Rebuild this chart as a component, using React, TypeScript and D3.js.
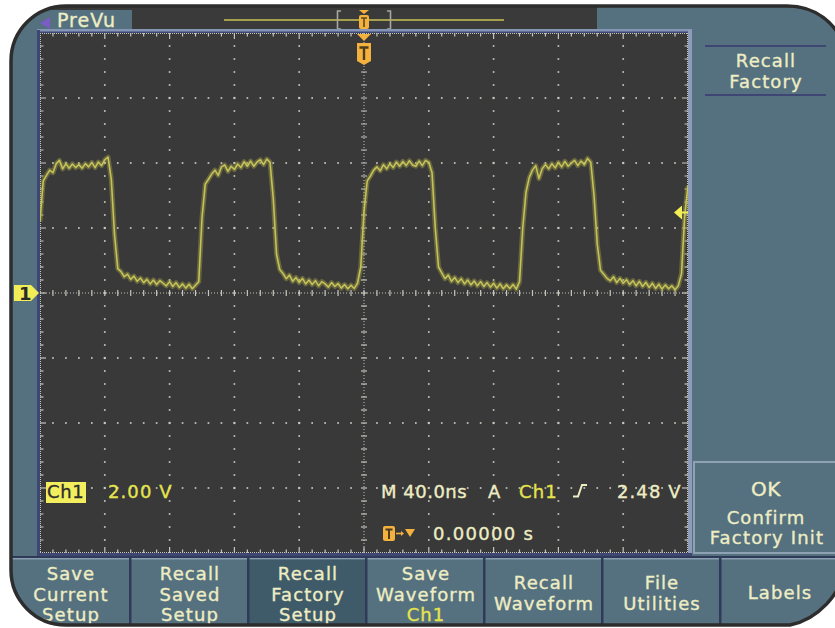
import React from "react";
import * as d3 from "d3";

// ---------- data ----------
const SAMPLE_START_NS = -200;
const SAMPLE_STEP_NS = 2;
// Ch1 samples (volts), one every 2 ns from -200 ns to +200 ns
const ch1Volts: number[] = [
  2.2, 3.45, 3.62, 3.78, 3.7, 3.98, 4.08, 3.82, 3.98, 3.84,
  3.97, 3.86, 3.95, 3.84, 3.98, 3.88, 4.02, 3.86, 4.03, 3.92,
  4.1, 4.18, 3.5, 1.8, 0.75, 0.66, 0.5, 0.58, 0.42, 0.52,
  0.36, 0.46, 0.32, 0.42, 0.28, 0.4, 0.26, 0.38, 0.3, 0.22,
  0.35, 0.2, 0.32, 0.17, 0.28, 0.15, 0.27, 0.13, 0.24, 0.35,
  2.3, 3.35, 3.5, 3.66, 3.78, 3.62, 3.88, 3.94, 3.74, 3.9,
  3.8, 3.97, 3.86, 4.04, 3.9, 4.06, 3.9, 4.03, 4.1, 3.95,
  4.12, 4.02, 2.9, 1.2, 0.72, 0.6, 0.44, 0.55, 0.36, 0.48,
  0.32, 0.45, 0.28, 0.4, 0.26, 0.38, 0.22, 0.35, 0.28, 0.18,
  0.32, 0.2, 0.29, 0.15, 0.26, 0.13, 0.24, 0.14, 0.3, 0.8,
  2.5, 3.45, 3.6, 3.78, 3.88, 3.76, 3.95, 3.82, 3.98, 3.86,
  4.03, 3.9, 4.05, 3.92, 4.07, 3.94, 3.9, 4.06, 3.92, 4.08,
  4.02, 3.7, 2.0, 0.8, 0.62, 0.44, 0.55, 0.36, 0.48, 0.32,
  0.44, 0.28, 0.4, 0.25, 0.37, 0.22, 0.35, 0.2, 0.32, 0.18,
  0.3, 0.15, 0.28, 0.13, 0.25, 0.14, 0.26, 0.12, 0.35, 2.0,
  3.1, 3.55, 3.78, 3.92, 3.52, 3.82, 3.95, 3.82, 3.98, 3.85,
  4.02, 3.88, 4.05, 3.9, 4.0, 4.08, 3.92, 4.06, 3.95, 4.14,
  4.02, 3.0, 1.5, 0.7, 0.58, 0.45, 0.38, 0.5, 0.32, 0.45,
  0.3, 0.41, 0.26, 0.38, 0.22, 0.36, 0.2, 0.33, 0.17, 0.3,
  0.14, 0.27, 0.12, 0.25, 0.13, 0.22, 0.1, 0.22, 0.6, 2.4,
  3.3,
];

const TIME_SPAN_NS: [number, number] = [-200, 200];
const VOLT_SPAN: [number, number] = [-8, 8];
const H_DIVS = 10;
const V_DIVS = 8;
const MINORS = 5;
const TRIGGER_LEVEL_V = 2.48;
const TRIGGER_TIME_NS = 0;
const CH1_OFFSET_V = 0;

const softkeys: string[][] = [
  ["Save", "Current", "Setup"],
  ["Recall", "Saved", "Setup"],
  ["Recall", "Factory", "Setup"],
  ["Save", "Waveform", "Ch1"],
  ["Recall", "Waveform"],
  ["File", "Utilities"],
  ["Labels"],
];
const selectedSoftkey = 2;
const sideTitle = ["Recall", "Factory"];
const sideOk = ["OK", "Confirm", "Factory Init"];
const tabLabel = "PreVu";
const chName = "Ch1";
const chScale = "2.00 V";
const tbText = "M 40.0ns";
const trigMode = "A";
const trigLevelText = "2.48 V";
const trigPosText = "0.00000 s";

// ---------- styling ----------
const W = 835;
const H = 628;
const GX0 = 40, GX1 = 688, GY0 = 33, GY1 = 553;
const SLATE = "#55717f";
const DARK = "#3a3a3a";
const CREAM = "#eeedc4";
const YELLOW = "#e6e44c";
const ORANGE = "#f4b13e";
const DOT = "#c6c6bd";
const FONT = "'DejaVu Sans', Verdana, sans-serif";

const bezelPath =
  "M66 6 H787 C815 6 836 22 848 52 V560 C842 596 816 620 790 625 H66 A55 55 0 0 1 11 570 V61 A55 55 0 0 1 66 6 Z";

export default function App() {
  const x = d3.scaleLinear().domain(TIME_SPAN_NS).range([GX0, GX1]);
  const y = d3.scaleLinear().domain(VOLT_SPAN).range([GY1, GY0]);
  const divW = (GX1 - GX0) / H_DIVS;
  const divH = (GY1 - GY0) / V_DIVS;
  const cx = x(TRIGGER_TIME_NS);
  const cy = y(CH1_OFFSET_V);

  const line = d3
    .line<number>()
    .x((_, i) => x(SAMPLE_START_NS + i * SAMPLE_STEP_NS))
    .y((v) => y(v));
  const tracePath = line(ch1Volts) || "";

  const minorXs = d3.range(1, H_DIVS * MINORS).map((k) => ({ k, px: GX0 + (k * divW) / MINORS }));
  const minorYs = d3.range(1, V_DIVS * MINORS).map((k) => ({ k, py: GY0 + (k * divH) / MINORS }));

  const dots: JSX.Element[] = [];
  d3.range(1, H_DIVS).forEach((i) => {
    if (i === H_DIVS / 2) return;
    const px = GX0 + i * divW;
    minorYs.forEach(({ k, py }) => {
      const s = k % MINORS === 0 ? 2.2 : 1.7;
      dots.push(<rect key={`v${i}-${k}`} x={px - s / 2} y={py - s / 2} width={s} height={s} fill={DOT} />);
    });
  });
  d3.range(1, V_DIVS).forEach((j) => {
    if (j === V_DIVS / 2) return;
    const py = GY0 + j * divH;
    minorXs.forEach(({ k, px }) => {
      if (k % MINORS === 0) return;
      dots.push(<rect key={`h${j}-${k}`} x={px - 0.85} y={py - 0.85} width={1.7} height={1.7} fill={DOT} />);
    });
  });

  const ticks: JSX.Element[] = [];
  minorXs.forEach(({ k, px }) => {
    const len = k % MINORS === 0 ? 6 : 3.5;
    ticks.push(<line key={`tt${k}`} x1={px} x2={px} y1={GY0} y2={GY0 + len} stroke={DOT} strokeWidth={1.2} />);
    ticks.push(<line key={`tb${k}`} x1={px} x2={px} y1={GY1} y2={GY1 - len} stroke={DOT} strokeWidth={1.2} />);
    ticks.push(<line key={`tc${k}`} x1={px} x2={px} y1={cy - 3} y2={cy + 3} stroke={DOT} strokeWidth={1.2} />);
  });
  minorYs.forEach(({ k, py }) => {
    const len = k % MINORS === 0 ? 6 : 3.5;
    ticks.push(<line key={`tl${k}`} y1={py} y2={py} x1={GX0} x2={GX0 + len} stroke={DOT} strokeWidth={1.2} />);
    ticks.push(<line key={`tr${k}`} y1={py} y2={py} x1={GX1} x2={GX1 - len} stroke={DOT} strokeWidth={1.2} />);
    ticks.push(<line key={`tm${k}`} y1={py} y2={py} x1={cx - 3} x2={cx + 3} stroke={DOT} strokeWidth={1.2} />);
  });

  const keyLefts = [12, 131, 249, 367, 485, 603, 721];
  const keyW = 118;
  const trigY = y(TRIGGER_LEVEL_V);

  const txt = (s: string, px: number, py: number, fill = CREAM, anchor: "start" | "middle" = "start", size = 18, ls = 1.1) => (
    <text x={px} y={py} fill={fill} stroke={fill} strokeWidth={0.35} fontFamily={FONT} fontSize={size} letterSpacing={ls} textAnchor={anchor}>
      {s}
    </text>
  );

  return (
    <svg width={W} height={H} style={{ position: "fixed", left: 0, top: 0, background: "#fff" }}>
      <defs>
        <clipPath id="bezel">
          <path d={bezelPath} />
        </clipPath>
        <clipPath id="grat">
          <rect x={GX0} y={GY0} width={GX1 - GX0} height={GY1 - GY0} />
        </clipPath>
      </defs>
      <rect width={W} height={H} fill="#ffffff" />
      <path d={bezelPath} fill={SLATE} />
      <g clipPath="url(#bezel)">
        {/* top strip */}
        <rect x={30} y={0} width={567} height={10} fill={DARK} />
        <rect x={132} y={0} width={465} height={30} fill={DARK} />
        {/* PreVu tab */}
        <rect x={37} y={10} width={95} height={20} fill={SLATE} />
        <path d="M50 17 L40 23 L50 29 Z" fill="#7a5cc4" />
        {txt(tabLabel, 57, 27, CREAM, "start", 19, 1)}
        {/* record view */}
        <line x1={224} x2={504} y1={20} y2={20} stroke="#a6a04c" strokeWidth={2} />
        <path d="M341 11 H337.5 V29 H341 M387 11 H390.5 V29 H387" fill="none" stroke="#a8a8a0" strokeWidth={1.6} />
        <path d="M359 10 H369 L364 14 Z" fill={ORANGE} />
        <rect x={359} y={15} width={10} height={14} rx={2} fill={ORANGE} />
        <path d="M361 18 H367 M364 18 V27" stroke="#5a4a20" strokeWidth={1.6} />
        {/* graticule frame */}
        <rect x={37} y={29} width={655} height={3} fill="#8595b6" />
        <rect x={37} y={31.5} width={655} height={1.5} fill="#3e4674" />
        <rect x={37} y={30} width={3} height={526} fill="#3e4674" />
        <rect x={688} y={30} width={4} height={526} fill="#8e9cb7" />
        <rect x={37} y={553} width={655} height={3} fill="#3e4674" />
        {/* graticule */}
        <rect x={GX0} y={GY0} width={GX1 - GX0} height={GY1 - GY0} fill="#393939" />
        {dots}
        <line x1={cx} x2={cx} y1={GY0} y2={GY1} stroke={DOT} strokeWidth={1} strokeDasharray="1 2" />
        <line x1={GX0} x2={GX1} y1={cy} y2={cy} stroke={DOT} strokeWidth={1} strokeDasharray="1 2" />
        <line x1={GX0} x2={GX1} y1={GY0 + 0.5} y2={GY0 + 0.5} stroke={DOT} strokeWidth={1} strokeDasharray="1 1" />
        <line x1={GX0} x2={GX1} y1={GY1 - 0.5} y2={GY1 - 0.5} stroke={DOT} strokeWidth={1} strokeDasharray="1 1" />
        <line x1={GX0 + 0.5} x2={GX0 + 0.5} y1={GY0} y2={GY1} stroke={DOT} strokeWidth={1} strokeDasharray="1 1" />
        <line x1={GX1 - 0.5} x2={GX1 - 0.5} y1={GY0} y2={GY1} stroke={DOT} strokeWidth={1} strokeDasharray="1 1" />
        {ticks}
        {/* trace */}
        <g clipPath="url(#grat)">
          <path d={tracePath} fill="none" stroke="#a9a744" strokeWidth={5} strokeOpacity={0.4} strokeLinejoin="round" />
          <path d={tracePath} fill="none" stroke="#c4c258" strokeWidth={1.6} strokeLinejoin="round" />
        </g>
        {/* trigger position marker */}
        <path d={`M${cx - 7} ${GY0 + 1} H${cx + 7} L${cx} ${GY0 + 8} Z`} fill={ORANGE} />
        <path d={`M${cx - 7} ${GY0 + 10} H${cx + 7} V${GY0 + 28} L${cx} ${GY0 + 32} L${cx - 7} ${GY0 + 28} Z`} fill={ORANGE} />
        <path d={`M${cx - 4.5} ${GY0 + 14.5} H${cx + 4.5} M${cx} ${GY0 + 14.5} V${GY0 + 27}`} stroke="#4a3c1c" strokeWidth={2.4} />
        {/* trigger level marker */}
        <path d={`M${GX1 - 14} ${trigY} L${GX1 - 6} ${trigY - 7} V${trigY + 7} Z`} fill="#f2ee58" />
        <line x1={GX1 - 7} x2={GX1} y1={trigY} y2={trigY} stroke="#f2ee58" strokeWidth={2} />
        {/* channel marker */}
        <path d={`M14 ${cy - 8} H31 L39 ${cy} L31 ${cy + 8} H14 Z`} fill="#f2ee58" />
        <text x={19} y={cy + 7} fill="#2a2a2a" fontFamily={FONT} fontSize={18} fontWeight="bold">1</text>
        {/* readouts */}
        <rect x={46} y={482} width={40} height={21} fill="#f2ee5e" />
        {txt(chName, 47, 498, "#2e2e2e", "start", 18, 0.6)}
        {txt(chScale, 108, 498, YELLOW)}
        {txt(tbText, 381, 498, CREAM, "start", 18, 0.5)}
        {txt(trigMode, 488, 498)}
        {txt(chName, 519, 498, YELLOW)}
        <path d="M573 496.5 H578 L582 485 H587" fill="none" stroke={CREAM} strokeWidth={2} />
        {txt(trigLevelText, 617, 498)}
        <rect x={383} y={526} width={12} height={15} rx={2} fill={ORANGE} />
        <path d="M385.5 529.5 H392.5 M389 529.5 V539" stroke="#4a3c1c" strokeWidth={2} />
        <path d="M396 533.5 H402" stroke={ORANGE} strokeWidth={1.6} />
        <path d="M401 531 L404 533.5 L401 536 Z" fill={ORANGE} />
        <path d="M405 529 H415 L410 537 Z" fill={ORANGE} />
        {txt(trigPosText, 433, 540, CREAM, "start", 18, 1.3)}
        {/* side menu */}
        <line x1={705} x2={826} y1={46} y2={46} stroke="#3e4674" strokeWidth={2} />
        <line x1={705} x2={826} y1={95} y2={95} stroke="#3e4674" strokeWidth={2} />
        {txt(sideTitle[0], 766, 67, CREAM, "middle")}
        {txt(sideTitle[1], 766, 88, CREAM, "middle")}
        <rect x={694} y={462} width={150} height={91} fill={SLATE} stroke="#8fa2b4" strokeWidth={2} />
        {txt(sideOk[0], 766, 496, CREAM, "middle", 20, 0.5)}
        {txt(sideOk[1], 766, 524, CREAM, "middle")}
        {txt(sideOk[2], 767, 544, CREAM, "middle", 18, 1.2)}
        {/* softkeys */}
        <rect x={0} y={556} width={W} height={2} fill="#2f3a58" />
        <rect x={0} y={558} width={W} height={1.5} fill="#8a9fb1" />
        {softkeys.map((lines, i) => {
          const left = keyLefts[i];
          const mid = left + keyW / 2;
          const n = lines.length;
          const base = n === 3 ? 580 : n === 2 ? 589 : 599;
          return (
            <g key={i}>
              {i === selectedSoftkey && <rect x={left} y={559.5} width={keyW} height={70} fill="#3f5b69" />}
              {i > 0 && <rect x={left - 2} y={556} width={2.5} height={72} fill="#2f3a58" />}
              {lines.map((s, j) =>
                <g key={j}>{txt(s, mid, base + j * 20.5, i === 3 && j === 2 ? YELLOW : CREAM, "middle")}</g>
              )}
            </g>
          );
        })}
      </g>
      <path d={bezelPath} fill="none" stroke="#2d2d2d" strokeWidth={3.5} />
    </svg>
  );
}
